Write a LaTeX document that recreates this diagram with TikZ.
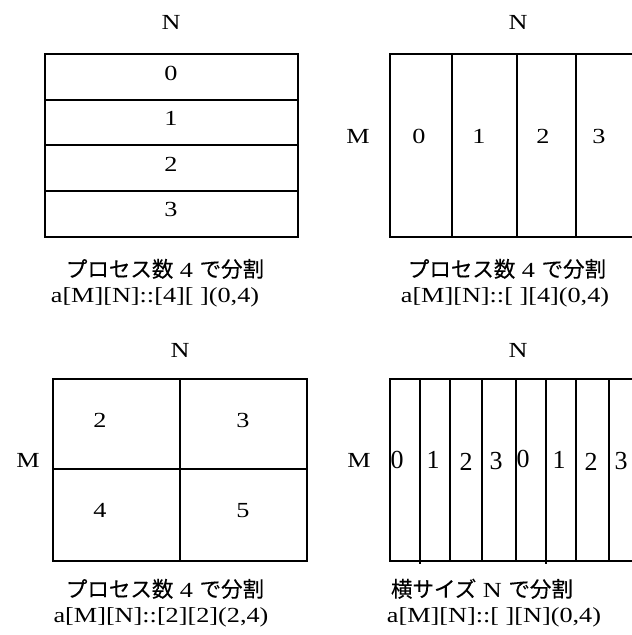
\documentclass[tikz,border=0pt]{standalone}
\usepackage{fontspec}
\setmainfont{Liberation Serif}[FakeStretch=1.22]
\newfontfamily\plainserif{Liberation Serif}
\newfontfamily\jp{Noto Sans CJK JP}[FakeBold=0.3]
\tikzset{
  txt/.style={inner sep=0pt, anchor=base, font=\fontsize{21.5}{25}\selectfont},
  bigdigit/.style={inner sep=0pt, anchor=base, font=\plainserif\fontsize{26}{30}\selectfont},
  gridline/.style={line width=1.6pt, black},
}
\begin{document}
\begin{tikzpicture}[x=1pt, y=-1pt]
\clip (0,0) rectangle (632,635);
\fill[white] (0,0) rectangle (632,635);

% ---------- top left ----------
\draw[gridline] (45,54) rectangle (298,237);
\draw[gridline] (45,100) -- (298,100);
\draw[gridline] (45,145) -- (298,145);
\draw[gridline] (45,191) -- (298,191);
\node[txt] (tlN) at (171,29) {N};
\node[txt] (tl0) at (171,80) {0};
\node[txt] (tl1) at (171,125) {1};
\node[txt] (tl2) at (171,171) {2};
\node[txt] (tl3) at (171,216) {3};
\node[txt] (tlc1) at (165,277) {{\jp プロセス数} 4 {\jp で分割}};
\node[txt] (tlc2) at (155,302) {a[M][N]::[4][ ](0,4)};

% ---------- top right ----------
\draw[gridline] (645,54) -- (390,54) -- (390,237) -- (645,237);
\draw[gridline] (452,54) -- (452,237);
\draw[gridline] (517,54) -- (517,237);
\draw[gridline] (576,54) -- (576,237);
\node[txt] (trN) at (518,29) {N};
\node[txt] (trM) at (358,143) {M};
\node[txt] (tr0) at (419,143) {0};
\node[txt] (tr1) at (479,143) {1};
\node[txt] (tr2) at (543,143) {2};
\node[txt] (tr3) at (599,143) {3};
\node[txt] (trc1) at (507,277) {{\jp プロセス数} 4 {\jp で分割}};
\node[txt] (trc2) at (505,302) {a[M][N]::[ ][4](0,4)};

% ---------- bottom left ----------
\draw[gridline] (53,379) rectangle (307,561);
\draw[gridline] (180,379) -- (180,561);
\draw[gridline] (53,469) -- (307,469);
\node[txt] (blN) at (180,357) {N};
\node[txt] (blM) at (28,467) {M};
\node[txt] (bl2) at (100,427) {2};
\node[txt] (bl3) at (243,427) {3};
\node[txt] (bl4) at (100,517) {4};
\node[txt] (bl5) at (243,517) {5};
\node[txt] (blc1) at (165,597) {{\jp プロセス数} 4 {\jp で分割}};
\node[txt] (blc2) at (161,622) {a[M][N]::[2][2](2,4)};

% ---------- bottom right ----------
\draw[gridline] (645,379) -- (390,379) -- (390,561) -- (645,561);
\draw[gridline] (420,379) -- (420,564);
\draw[gridline] (450,379) -- (450,561);
\draw[gridline] (482,379) -- (482,561);
\draw[gridline] (516,379) -- (516,561);
\draw[gridline] (546,379) -- (546,564);
\draw[gridline] (576,379) -- (576,561);
\draw[gridline] (609,379) -- (609,561);
\node[txt] (brN) at (518,357) {N};
\node[txt] (brM) at (359,467) {M};
\node[bigdigit] (br0) at (397,468) {0};
\node[bigdigit] (br1) at (433,468) {1};
\node[bigdigit] (br2) at (466,470) {2};
\node[bigdigit] (br3) at (496,469) {3};
\node[bigdigit] (br4) at (523,467) {0};
\node[bigdigit] (br5) at (559,468) {1};
\node[bigdigit] (br6) at (591,470) {2};
\node[bigdigit] (br7) at (621,469) {3};
\node[txt] (brc1) at (482,597) {{\jp 横サイズ} N {\jp で分割}};
\node[txt] (brc2) at (494,622) {a[M][N]::[ ][N](0,4)};
\end{tikzpicture}
\end{document}
